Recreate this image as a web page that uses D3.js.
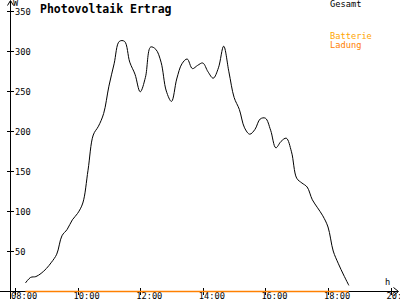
<!DOCTYPE html>
<html>
<head>
<meta charset="utf-8">
<script src="https://cdn.jsdelivr.net/npm/d3@7"></script>
<style>
body { margin: 0; background: #fff; }
svg { display: block; }
.lbl { font-family: "DejaVu Sans Mono", monospace; font-size: 8.7px; }
</style>
</head>
<body>
<div id="chart"></div>
<script>
var width = 400,
	height = 300;

// times of the samples (hh:mm) and power in W
var times = ["08:20","08:30","08:40","08:50","09:00","09:10","09:20","09:30","09:40","09:50",
	"10:00","10:10","10:20","10:30","10:40","10:50","11:00","11:10","11:20","11:30",
	"11:40","11:50","12:00","12:10","12:20","12:30","12:40","12:50","13:00","13:10",
	"13:20","13:30","13:40","13:50","14:00","14:10","14:20","14:30","14:40","14:50",
	"15:00","15:10","15:20","15:30","15:40","15:50","16:00","16:10","16:20","16:30",
	"16:40","16:50","17:00","17:10","17:20","17:30","17:40","17:50","18:00","18:10",
	"18:20","18:30","18:40"];
var gesamt = [10,17,18,22,28,36,46,69,77,89,
	97,110,151,195,206,222,256,284,312,312,
	286,271,249,267,305,302,286,250,237,265,
	284,290,278,282,285,274,266,279,306,274,
	242,227,204,196,202,215,216,201,179,187,
	191,174,141,135,130,114,104,94,80,50,
	34,20,7];
var yTicks = [50,100,150,200,250,300,350];
var xTicks = ["08:00","10:00","12:00","14:00","16:00","18:00","20:00"];
var ladung = ["08:20","18:40"]; // span of the (zero) charge line
var legend = [
	{name: "Gesamt", color: "#000000", y: 7},
	{name: "Batterie", color: "#ffa500", y: 39},
	{name: "Ladung", color: "#ff8000", y: 48}
];

function hours(s) {
	var p = s.split(":");
	return +p[0] + (+p[1]) / 60;
}

var x = d3.scaleLinear().domain([8, 20]).range([15, 390.6]);
var y = d3.scaleLinear().domain([0, 350]).range([291, 11]);

var svg = d3.select("#chart").append("svg")
	.attr("width", width)
	.attr("height", height);

// axes lines
svg.append("line")
	.attr("x1", 0).attr("x2", 398)
	.attr("y1", y(0) + 0.5).attr("y2", y(0) + 0.5)
	.attr("stroke", "#000");
svg.append("path")
	.attr("d", "M393.5,287.5L398.5,291.5L393.5,295.5")
	.attr("fill", "none").attr("stroke", "#000");
svg.append("line")
	.attr("x1", x(8) - 4.5).attr("x2", x(8) - 4.5)
	.attr("y1", 1).attr("y2", 299)
	.attr("stroke", "#000");
svg.append("path")
	.attr("d", "M7.5,5.5L10.5,0.5L13.5,5.5")
	.attr("fill", "none").attr("stroke", "#000");

// y ticks
var gy = svg.append("g");
gy.selectAll("line").data(yTicks).enter().append("line")
	.attr("x1", 7).attr("x2", 14)
	.attr("y1", function(d) { return Math.round(y(d)) + 0.5; })
	.attr("y2", function(d) { return Math.round(y(d)) + 0.5; })
	.attr("stroke", "#000");
gy.selectAll("text").data(yTicks).enter().append("text")
	.attr("class", "lbl")
	.attr("x", 15)
	.attr("y", function(d) { return y(d) + 3.5; })
	.text(function(d) { return d; });

// x ticks
var gx = svg.append("g");
gx.selectAll("line").data(xTicks).enter().append("line")
	.attr("x1", function(d) { return Math.round(x(hours(d))) + 0.5; })
	.attr("x2", function(d) { return Math.round(x(hours(d))) + 0.5; })
	.attr("y1", 288).attr("y2", 295)
	.attr("stroke", "#000");
gx.selectAll("text").data(xTicks).enter().append("text")
	.attr("class", "lbl")
	.attr("x", function(d) { return x(hours(d)) - 4; })
	.attr("y", 299)
	.text(function(d) { return d; });

svg.append("text").attr("class", "lbl").attr("x", 13).attr("y", 6).text("W");
svg.append("text").attr("class", "lbl").attr("x", 385).attr("y", 285).text("h");

// charge line (zero)
svg.append("line")
	.attr("x1", x(hours(ladung[0]))).attr("x2", x(hours(ladung[1])))
	.attr("y1", y(0) + 0.5).attr("y2", y(0) + 0.5)
	.attr("stroke", "#ff8000")
	.attr("stroke-width", 1.5);

// power curve
var line = d3.line()
	.x(function(d, i) { return x(hours(times[i])); })
	.y(function(d) { return y(d); })
	.curve(d3.curveCatmullRom);

svg.append("path")
	.datum(gesamt)
	.attr("d", line)
	.attr("fill", "none")
	.attr("stroke", "#000")
	.attr("stroke-width", 1);

// title
svg.append("text")
	.attr("x", 40).attr("y", 13)
	.attr("font-family", "DejaVu Sans Mono, monospace")
	.attr("font-weight", "bold")
	.attr("font-size", "11.5px")
	.text("Photovoltaik Ertrag");

// legend
svg.selectAll(".leg").data(legend).enter().append("text")
	.attr("class", "lbl leg")
	.attr("x", 330)
	.attr("y", function(d) { return d.y; })
	.attr("fill", function(d) { return d.color; })
	.text(function(d) { return d.name; });
</script>
</body>
</html>
